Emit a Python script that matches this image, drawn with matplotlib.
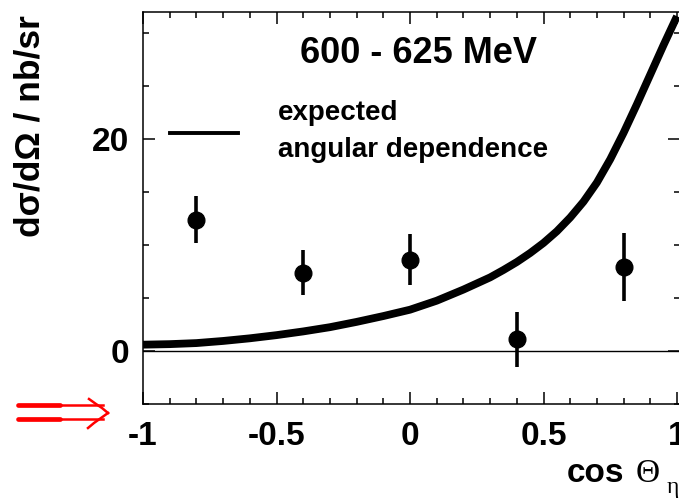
import matplotlib
matplotlib.use("Agg")
import matplotlib.pyplot as plt
from matplotlib.lines import Line2D
from matplotlib.ticker import MultipleLocator, FixedLocator

plt.rcParams['font.family'] = ['Liberation Sans', 'DejaVu Sans']

# data points
cos_theta = [-0.8, -0.4, 0.0, 0.4, 0.8]
dsigma = [12.4, 7.4, 8.6, 1.1, 7.9]
dsigma_err = [2.2, 2.1, 2.4, 2.6, 3.2]

# expected angular dependence curve
curve_x = [-1.0, -0.9, -0.8, -0.7, -0.6, -0.5, -0.4, -0.3, -0.2, -0.1, 0.0,
           0.1, 0.2, 0.3, 0.35, 0.4, 0.45, 0.5, 0.55, 0.6, 0.65, 0.7, 0.75,
           0.8, 0.85, 0.9, 0.95, 1.0]
curve_y = [0.6, 0.65, 0.75, 0.95, 1.2, 1.5, 1.85, 2.25, 2.75, 3.3, 3.9,
           4.75, 5.8, 6.95, 7.65, 8.4, 9.25, 10.2, 11.3, 12.6, 14.1, 15.9, 18.1,
           20.6, 23.3, 26.1, 28.9, 31.6]

W, H = 679, 500
fig = plt.figure(figsize=(W / 100, H / 100), dpi=100)

def fx(px):
    return px / W

def fy(py):
    return 1 - py / H

ax = fig.add_axes([fx(143), fy(404), 2.01 * 267 / W, (404 - 12) / H])
ax.set_xlim(-1, 1.01)
ax.set_ylim(-5, 32)

ax.plot(curve_x, curve_y, color='black', lw=5.6, solid_capstyle='butt',
        solid_joinstyle='round', clip_on=True)
ax.axhline(0, color='black', lw=1.0)
ax.errorbar(cos_theta, dsigma, yerr=dsigma_err, fmt='o', color='black',
            ms=12, elinewidth=2.6, capsize=0)

ax.xaxis.set_major_locator(FixedLocator([-1, -0.5, 0, 0.5, 1]))
ax.xaxis.set_minor_locator(MultipleLocator(0.1))
ax.yaxis.set_major_locator(MultipleLocator(20))
ax.yaxis.set_minor_locator(MultipleLocator(5))
ax.set_xticklabels(['-1', '-0.5', '0', '0.5', '1'])
ax.tick_params(which='both', direction='in', top=True, right=True, width=1.1)
ax.tick_params(which='major', length=8.5, labelsize=24, pad=12)
ax.tick_params(axis='y', which='major', pad=10)
ax.tick_params(which='minor', length=4.3)
for lab in ax.get_xticklabels() + ax.get_yticklabels():
    lab.set_fontweight('bold')
for s in ax.spines.values():
    s.set_linewidth(1.1)

# title
fig.text(fx(418), fy(63), '600 - 625 MeV', ha='center', va='baseline',
         fontsize=26, fontweight='bold')

# legend
fig.add_artist(Line2D([fx(170), fx(238)], [fy(133), fy(133)], color='black', lw=2.8))
fig.text(fx(278), fy(120), 'expected', ha='left', va='baseline', fontsize=20, fontweight='bold')
fig.text(fx(278), fy(157), 'angular dependence', ha='left', va='baseline', fontsize=20, fontweight='bold')

# axis labels
fig.text(fx(30), fy(126), 'dσ/dΩ / nb/sr', rotation=90, ha='center', va='center',
         fontsize=25.5, fontweight='bold')
fig.text(fx(567), fy(482), 'cos', ha='left', va='baseline', fontsize=24, fontweight='bold')
fig.text(fx(636), fy(482), 'Θ', ha='left', va='baseline', fontsize=24,
         family=['Liberation Serif', 'DejaVu Serif'])
fig.text(fx(667), fy(493), 'η', ha='left', va='baseline', fontsize=17,
         family=['Liberation Serif', 'DejaVu Serif'])

# red double arrow
red = '#ff0000'
for yy in (405, 419):
    fig.add_artist(Line2D([fx(18), fx(60)], [fy(yy), fy(yy)], color=red, lw=3.4,
                          solid_capstyle='round'))
    fig.add_artist(Line2D([fx(60), fx(103)], [fy(yy), fy(yy)], color=red, lw=1.8))
fig.add_artist(Line2D([fx(89), fx(96), fx(102), fx(108)],
                      [fy(399), fy(404), fy(408), fy(413)], color=red, lw=1.8))
fig.add_artist(Line2D([fx(108), fx(101), fx(94), fx(88)],
                      [fy(413), fy(418), fy(423), fy(428)], color=red, lw=1.8))

fig.savefig('out.png', dpi=100)
